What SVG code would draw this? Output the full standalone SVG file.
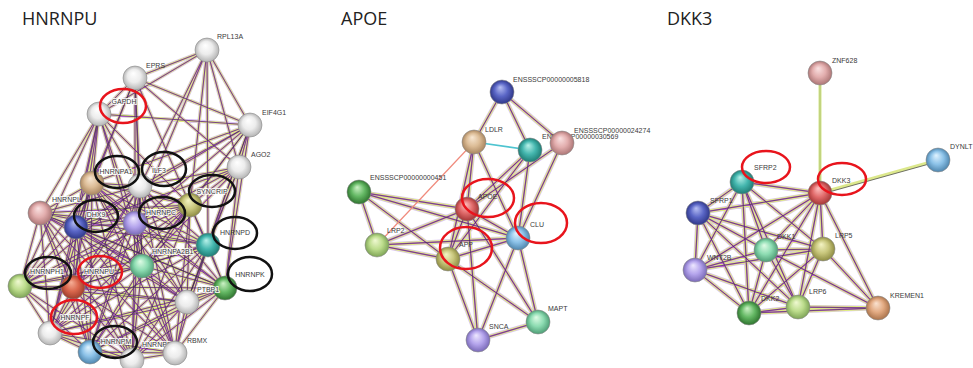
<svg xmlns="http://www.w3.org/2000/svg" width="973" height="368" viewBox="0 0 973 368">
<style>
.title{font-family:"Open Sans","Liberation Sans",sans-serif;font-size:18px;fill:#222}
.lb{font-family:"Liberation Sans",Arial,sans-serif;font-size:7px;fill:#3a3a3a}
.halo{paint-order:stroke;stroke:#fff;stroke-width:2;stroke-opacity:.85}
.m{text-anchor:middle}
.e0{fill:none;stroke:#d2b8f0;stroke-width:4.6;stroke-opacity:.85}
.e1{fill:none;stroke:#e0ee82;stroke-width:3.3}
.e2{fill:none;stroke:#c062d6;stroke-width:1.5}
.e3{fill:none;stroke:#2e2e2e;stroke-width:.55}
.d .e0{stroke-width:3.6}
.d .e1{stroke-width:2.6}
.d .e2{stroke-width:1.2}
.d .e3{stroke-width:.5}
.n{stroke:#8a8a8a;stroke-width:.6}
.hb{fill:none;stroke:#111;stroke-width:2.5}
.hr{fill:none;stroke:#e8141c;stroke-width:2.5}
</style>
<defs>
<radialGradient id="gW" fx=".42" fy=".3"><stop offset="0" stop-color="#ffffff"/><stop offset=".55" stop-color="#ececec"/><stop offset="1" stop-color="#b4b4b4"/></radialGradient>
<radialGradient id="gTan" fx=".42" fy=".3"><stop offset="0" stop-color="#f8e8d4"/><stop offset=".55" stop-color="#dcbc96"/><stop offset="1" stop-color="#a98660"/></radialGradient>
<radialGradient id="gPk" fx=".42" fy=".3"><stop offset="0" stop-color="#fae2e2"/><stop offset=".55" stop-color="#e2adad"/><stop offset="1" stop-color="#ad7676"/></radialGradient>
<radialGradient id="gBl" fx=".42" fy=".3"><stop offset="0" stop-color="#b8c0f4"/><stop offset=".55" stop-color="#5a66c6"/><stop offset="1" stop-color="#2f3788"/></radialGradient>
<radialGradient id="gPu" fx=".42" fy=".3"><stop offset="0" stop-color="#eee8ff"/><stop offset=".55" stop-color="#b4a4ec"/><stop offset="1" stop-color="#7a6ab8"/></radialGradient>
<radialGradient id="gOl" fx=".42" fy=".3"><stop offset="0" stop-color="#f4f4c4"/><stop offset=".55" stop-color="#c8c67c"/><stop offset="1" stop-color="#8e8c42"/></radialGradient>
<radialGradient id="gTe" fx=".42" fy=".3"><stop offset="0" stop-color="#b8f2ea"/><stop offset=".55" stop-color="#44b6ae"/><stop offset="1" stop-color="#1f7c74"/></radialGradient>
<radialGradient id="gMi" fx=".42" fy=".3"><stop offset="0" stop-color="#e0fce6"/><stop offset=".55" stop-color="#8ddcb2"/><stop offset="1" stop-color="#4e9e76"/></radialGradient>
<radialGradient id="gGr" fx=".42" fy=".3"><stop offset="0" stop-color="#cdf2c6"/><stop offset=".55" stop-color="#64b864"/><stop offset="1" stop-color="#2f742f"/></radialGradient>
<radialGradient id="gLg" fx=".42" fy=".3"><stop offset="0" stop-color="#f0f9d2"/><stop offset=".55" stop-color="#bcdc8c"/><stop offset="1" stop-color="#7ea456"/></radialGradient>
<radialGradient id="gRd" fx=".42" fy=".3"><stop offset="0" stop-color="#ffc0c0"/><stop offset=".55" stop-color="#e06a6a"/><stop offset="1" stop-color="#a33636"/></radialGradient>
<radialGradient id="gLb" fx=".42" fy=".3"><stop offset="0" stop-color="#e0f3ff"/><stop offset=".55" stop-color="#8cc2e8"/><stop offset="1" stop-color="#4f86ae"/></radialGradient>
<radialGradient id="gOr" fx=".42" fy=".3"><stop offset="0" stop-color="#fae2d0"/><stop offset=".55" stop-color="#e2aa82"/><stop offset="1" stop-color="#ab744c"/></radialGradient>
<radialGradient id="gRo" fx=".42" fy=".3"><stop offset="0" stop-color="#f6b098"/><stop offset=".55" stop-color="#d9664c"/><stop offset="1" stop-color="#9e3e2c"/></radialGradient>
<path id="hE" d="M207 50L135 78M207 50L99 114M207 50L250 125M207 50L140 186M207 50L190 205M207 50L239 167M207 50L135 223M207 50L208 245M135 78L99 114M135 78L250 125M135 78L140 186M135 78L92 183M135 78L190 205M135 78L135 223M135 78L239 167M135 78L76 227M135 78L142 266M99 114L250 125M99 114L92 183M99 114L140 186M99 114L40 213M99 114L76 227M99 114L135 223M99 114L142 266M99 114L20 286M99 114L73 287M99 114L190 205M99 114L50 333M250 125L239 167M250 125L140 186M250 125L190 205M250 125L208 245M250 125L225 288M250 125L187 302M250 125L135 223M250 125L92 183M250 125L142 266M250 125L76 227M239 167L190 205M239 167L208 245M239 167L225 288M239 167L140 186M239 167L135 223M239 167L187 302M239 167L142 266M239 167L76 227M140 186L92 183M140 186L190 205M140 186L40 213M140 186L76 227M140 186L135 223M140 186L208 245M140 186L142 266M140 186L225 288M140 186L187 302M140 186L20 286M140 186L73 287M140 186L50 333M140 186L90 352M140 186L132 360M140 186L175 353M92 183L190 205M92 183L40 213M92 183L76 227M92 183L135 223M92 183L208 245M92 183L142 266M92 183L225 288M92 183L187 302M92 183L20 286M92 183L73 287M92 183L50 333M92 183L90 352M92 183L132 360M92 183L175 353M190 205L40 213M190 205L76 227M190 205L135 223M190 205L208 245M190 205L142 266M190 205L225 288M190 205L187 302M190 205L20 286M190 205L73 287M190 205L50 333M190 205L90 352M190 205L132 360M190 205L175 353M40 213L76 227M40 213L135 223M40 213L208 245M40 213L142 266M40 213L225 288M40 213L187 302M40 213L20 286M40 213L73 287M40 213L50 333M40 213L90 352M40 213L132 360M40 213L175 353M76 227L135 223M76 227L208 245M76 227L142 266M76 227L225 288M76 227L187 302M76 227L20 286M76 227L73 287M76 227L50 333M76 227L90 352M76 227L132 360M76 227L175 353M135 223L208 245M135 223L142 266M135 223L225 288M135 223L187 302M135 223L20 286M135 223L73 287M135 223L50 333M135 223L90 352M135 223L132 360M135 223L175 353M208 245L142 266M208 245L225 288M208 245L187 302M208 245L20 286M208 245L73 287M208 245L50 333M208 245L90 352M208 245L132 360M208 245L175 353M142 266L225 288M142 266L187 302M142 266L20 286M142 266L73 287M142 266L50 333M142 266L90 352M142 266L132 360M142 266L175 353M225 288L187 302M225 288L73 287M225 288L50 333M225 288L90 352M225 288L132 360M225 288L175 353M187 302L20 286M187 302L73 287M187 302L50 333M187 302L90 352M187 302L132 360M187 302L175 353M20 286L73 287M20 286L50 333M20 286L90 352M20 286L132 360M73 287L50 333M73 287L90 352M73 287L132 360M73 287L175 353M50 333L90 352M50 333L132 360M50 333L175 353M90 352L132 360M90 352L175 353M132 360L175 353"/>
<path id="aE" d="M502 92L474 142M502 92L530 150M502 92L562 143M474 142L467 209M474 142L448 259M474 142L518 238M530 150L467 209M530 150L448 259M530 150L518 238M562 143L518 238M562 143L467 209M359 192L467 209M359 192L518 238M359 192L377 245M359 192L448 259M467 209L518 238M467 209L448 259M467 209L377 245M467 209L478 340M467 209L538 322M518 238L448 259M518 238L377 245M518 238L478 340M518 238L538 322M377 245L448 259M448 259L478 340M448 259L538 322M478 340L538 322"/>
<path id="dE" d="M820 193L742 182M820 193L698 213M820 193L766 250M820 193L823 249M820 193L695 270M820 193L749 313M820 193L798 307M820 193L878 308M742 182L698 213M742 182L766 250M742 182L823 249M742 182L695 270M742 182L749 313M742 182L798 307M698 213L766 250M698 213L823 249M698 213L695 270M698 213L749 313M698 213L798 307M766 250L823 249M766 250L695 270M766 250L749 313M766 250L798 307M766 250L878 308M823 249L695 270M823 249L749 313M823 249L798 307M823 249L878 308M695 270L749 313M695 270L798 307M749 313L798 307M749 313L878 308M798 307L878 308"/>
</defs>
<rect width="973" height="368" fill="#fff"/>
<text class="title" x="22" y="25">HNRNPU</text>
<text class="title" x="341" y="25">APOE</text>
<text class="title" x="667" y="25">DKK3</text>
<g id="connectors">
<g class="d"><use href="#hE" class="e0"/><use href="#hE" class="e1"/><use href="#hE" class="e2"/><use href="#hE" class="e3"/></g>
<g><use href="#aE" class="e0"/><use href="#aE" class="e1"/><use href="#aE" class="e2"/><use href="#aE" class="e3"/>
<path d="M474 142L530 150" fill="none" stroke="#4ec4d0" stroke-width="1.6"/>
<path d="M474 142L377 245" fill="none" stroke="#f08a7c" stroke-width="1.2"/></g>
<g><use href="#dE" class="e0"/><use href="#dE" class="e1"/><use href="#dE" class="e2"/><use href="#dE" class="e3"/>
<path d="M820 85L820 182" fill="none" stroke="#d2e48a" stroke-width="3"/>
<path d="M820 85L820 182" fill="none" stroke="#a8b868" stroke-width=".7"/>
<path d="M820 193L938 160" fill="none" stroke="#dce88c" stroke-width="3.2"/>
<path d="M820 194.5L938 161.5" fill="none" stroke="#505050" stroke-width=".8"/></g>
</g>
<g id="hnrnpu-network">
<g id="n-RPL13A"><circle class="n" cx="207" cy="50" r="12" fill="url(#gW)"/><text class="lb" x="217" y="39">RPL13A</text></g>
<g id="n-EPRS"><circle class="n" cx="135" cy="78" r="12" fill="url(#gW)"/><text class="lb" x="146" y="68">EPRS</text></g>
<g id="n-GAPDH"><circle class="n" cx="99" cy="114" r="12" fill="url(#gW)"/><text class="lb halo m" x="124" y="104">GAPDH</text></g>
<g id="n-EIF4G1"><circle class="n" cx="250" cy="125" r="12" fill="url(#gW)"/><text class="lb" x="262" y="115">EIF4G1</text></g>
<g id="n-AGO2"><circle class="n" cx="239" cy="167" r="12" fill="url(#gW)"/><text class="lb" x="251" y="157">AGO2</text></g>
<g id="n-ILF3"><circle class="n" cx="140" cy="186" r="12" fill="url(#gW)"/><text class="lb halo m" x="159" y="173">ILF3</text></g>
<g id="n-HNRNPA1"><circle class="n" cx="92" cy="183" r="12" fill="url(#gTan)"/><text class="lb halo m" x="116" y="174">HNRNPA1</text></g>
<g id="n-SYNCRIP"><circle class="n" cx="190" cy="205" r="12" fill="url(#gOl)"/><text class="lb halo m" x="212" y="194">SYNCRIP</text></g>
<g id="n-HNRNPL"><circle class="n" cx="40" cy="213" r="12" fill="url(#gPk)"/><text class="lb halo" x="52" y="202">HNRNPL</text></g>
<g id="n-DHX9"><circle class="n" cx="76" cy="227" r="12" fill="url(#gBl)"/><text class="lb halo m" x="96" y="217">DHX9</text></g>
<g id="n-HNRNPC"><circle class="n" cx="135" cy="223" r="12" fill="url(#gPu)"/><text class="lb halo m" x="161" y="215">HNRNPC</text></g>
<g id="n-HNRNPD"><circle class="n" cx="208" cy="245" r="12" fill="url(#gTe)"/><text class="lb m" x="235" y="235">HNRNPD</text></g>
<g id="n-HNRNPA2B1"><circle class="n" cx="142" cy="266" r="12" fill="url(#gMi)"/><text class="lb halo" x="152" y="254">HNRNPA2B1</text></g>
<g id="n-HNRNPK"><circle class="n" cx="225" cy="288" r="12" fill="url(#gGr)"/><text class="lb m" x="250" y="277">HNRNPK</text></g>
<g id="n-PTBP1"><circle class="n" cx="187" cy="302" r="12" fill="url(#gW)"/><text class="lb halo" x="197" y="292">PTBP1</text></g>
<g id="n-HNRNPH1"><circle class="n" cx="20" cy="286" r="12" fill="url(#gLg)"/><text class="lb halo m" x="47" y="274">HNRNPH1</text></g>
<g id="n-HNRNPU"><circle class="n" cx="73" cy="287" r="12" fill="url(#gRo)"/><text class="lb halo m" x="99" y="274">HNRNPU</text></g>
<g id="n-HNRNPF"><circle class="n" cx="50" cy="333" r="12" fill="url(#gW)"/><text class="lb halo m" x="75" y="320">HNRNPF</text></g>
<g id="n-HNRNPM"><circle class="n" cx="90" cy="352" r="12" fill="url(#gLb)"/><text class="lb halo m" x="116" y="344">HNRNPM</text></g>
<g id="n-HNRNPR"><circle class="n" cx="132" cy="360" r="12" fill="url(#gW)"/><text class="lb halo" x="142" y="347">HNRNPR</text></g>
<g id="n-RBMX"><circle class="n" cx="175" cy="353" r="12" fill="url(#gW)"/><text class="lb" x="187" y="343">RBMX</text></g>
</g>
<g id="apoe-network">
<g id="n-ENSSSCP00000005818"><circle class="n" cx="502" cy="92" r="12" fill="url(#gBl)"/><text class="lb" x="513" y="82">ENSSSCP00000005818</text></g>
<g id="n-LDLR"><circle class="n" cx="474" cy="142" r="12" fill="url(#gTan)"/><text class="lb" x="485" y="132">LDLR</text></g>
<g id="n-ENSSSCP00000030569"><text class="lb" x="542" y="139">ENSSSCP00000030569</text><circle class="n" cx="530" cy="150" r="12" fill="url(#gTe)"/></g>
<g id="n-ENSSSCP00000024274"><circle class="n" cx="562" cy="143" r="12" fill="url(#gPk)"/><text class="lb" x="574" y="133">ENSSSCP00000024274</text></g>
<g id="n-ENSSSCP00000000451"><circle class="n" cx="359" cy="192" r="12" fill="url(#gGr)"/><text class="lb" x="370" y="180">ENSSSCP00000000451</text></g>
<g id="n-APOE"><circle class="n" cx="467" cy="209" r="12" fill="url(#gRd)"/><text class="lb" x="478" y="199">APOE</text></g>
<g id="n-CLU"><circle class="n" cx="518" cy="238" r="12" fill="url(#gLb)"/><text class="lb" x="530" y="227">CLU</text></g>
<g id="n-LRP2"><circle class="n" cx="377" cy="245" r="12" fill="url(#gLg)"/><text class="lb" x="387" y="233">LRP2</text></g>
<g id="n-APP"><circle class="n" cx="448" cy="259" r="12" fill="url(#gOl)"/><text class="lb" x="459" y="247">APP</text></g>
<g id="n-MAPT"><circle class="n" cx="538" cy="322" r="12" fill="url(#gMi)"/><text class="lb" x="548" y="311">MAPT</text></g>
<g id="n-SNCA"><circle class="n" cx="478" cy="340" r="12" fill="url(#gPu)"/><text class="lb" x="489" y="329">SNCA</text></g>
</g>
<g id="dkk3-network">
<g id="n-ZNF628"><circle class="n" cx="820" cy="73" r="12" fill="url(#gPk)"/><text class="lb" x="832" y="63">ZNF628</text></g>
<g id="n-DYNLT"><circle class="n" cx="938" cy="160" r="12" fill="url(#gLb)"/><text class="lb" x="950" y="149">DYNLT</text></g>
<g id="n-DKK3"><circle class="n" cx="820" cy="193" r="12" fill="url(#gRd)"/><text class="lb" x="832" y="183">DKK3</text></g>
<g id="n-SFRP2"><circle class="n" cx="742" cy="182" r="12" fill="url(#gTe)"/><text class="lb" x="754" y="170">SFRP2</text></g>
<g id="n-SFRP1"><circle class="n" cx="698" cy="213" r="12" fill="url(#gBl)"/><text class="lb" x="710" y="203">SFRP1</text></g>
<g id="n-DKK1"><circle class="n" cx="766" cy="250" r="12" fill="url(#gMi)"/><text class="lb" x="777" y="239">DKK1</text></g>
<g id="n-LRP5"><circle class="n" cx="823" cy="249" r="12" fill="url(#gOl)"/><text class="lb" x="835" y="238">LRP5</text></g>
<g id="n-WNT2B"><circle class="n" cx="695" cy="270" r="12" fill="url(#gPu)"/><text class="lb" x="707" y="260">WNT2B</text></g>
<g id="n-DKK2"><circle class="n" cx="749" cy="313" r="12" fill="url(#gGr)"/><text class="lb" x="761" y="301">DKK2</text></g>
<g id="n-LRP6"><circle class="n" cx="798" cy="307" r="12" fill="url(#gLg)"/><text class="lb" x="809" y="294">LRP6</text></g>
<g id="n-KREMEN1"><circle class="n" cx="878" cy="308" r="12" fill="url(#gOr)"/><text class="lb" x="890" y="298">KREMEN1</text></g>
</g>
<g id="highlights">
<ellipse class="hr" cx="123" cy="106" rx="23" ry="17"/>
<ellipse class="hb" cx="117" cy="172" rx="22" ry="16"/>
<ellipse class="hb" cx="164" cy="169" rx="22" ry="17"/>
<ellipse class="hb" cx="212" cy="191" rx="23" ry="16"/>
<ellipse class="hb" cx="96" cy="216" rx="22" ry="16"/>
<ellipse class="hb" cx="162" cy="213" rx="23" ry="16"/>
<ellipse class="hb" cx="235" cy="233" rx="22" ry="16"/>
<ellipse class="hb" cx="250" cy="274" rx="22" ry="17"/>
<ellipse class="hb" cx="48" cy="273" rx="23" ry="16"/>
<ellipse class="hr" cx="100" cy="272" rx="22" ry="16"/>
<ellipse class="hr" cx="74" cy="317" rx="23" ry="17"/>
<ellipse class="hb" cx="115" cy="342" rx="22" ry="16"/>
<ellipse class="hr" cx="488" cy="198" rx="26" ry="19"/>
<ellipse class="hr" cx="541" cy="223" rx="26" ry="20"/>
<ellipse class="hr" cx="466" cy="248" rx="26" ry="21"/>
<ellipse class="hr" cx="766" cy="167" rx="24" ry="16"/>
<ellipse class="hr" cx="842" cy="179" rx="24" ry="16"/>
</g>
</svg>
